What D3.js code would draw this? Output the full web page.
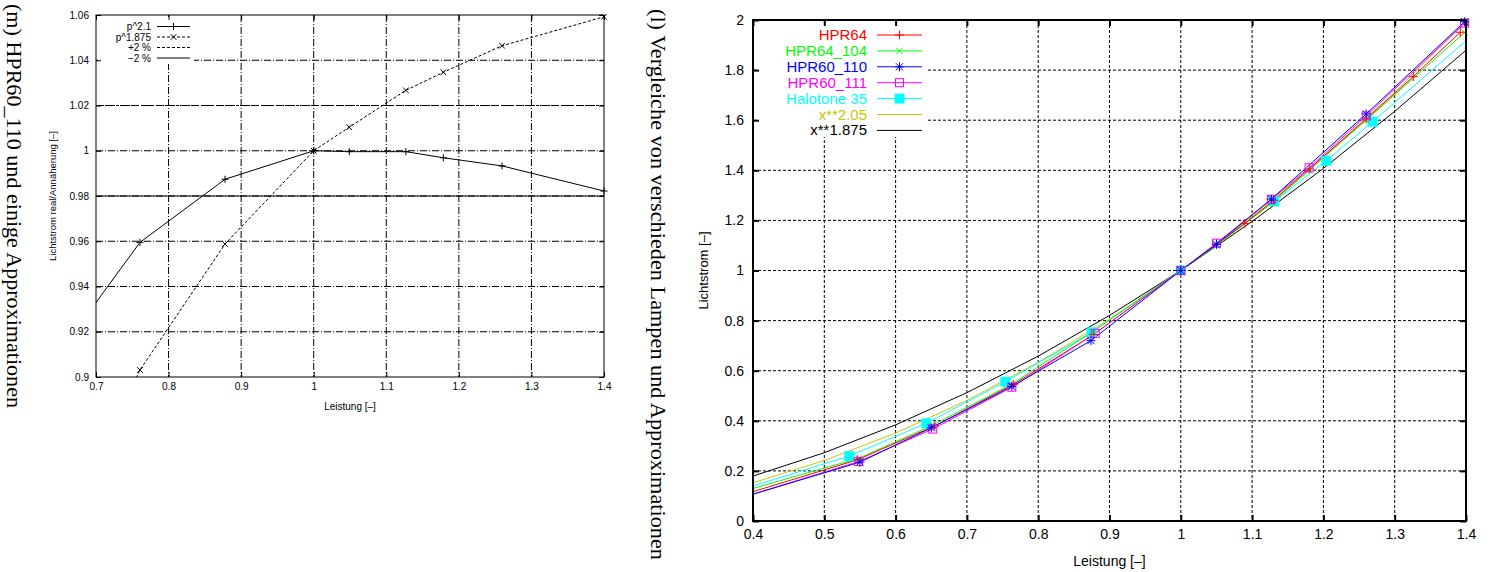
<!DOCTYPE html>
<html><head><meta charset="utf-8">
<script src="https://cdn.jsdelivr.net/npm/d3@7/dist/d3.min.js"></script>
<style>
body{margin:0;background:#fff;}
svg{display:block;}
text{font-family:"Liberation Sans",Arial,Helvetica,sans-serif;fill:#000;}
</style>
</head><body>
<svg id="c" width="1496" height="572"></svg>
<script>
// ---------------- DATA ----------------
// Left chart (m): ratio real / approximation for HPR60_110
const leftXTicks = [0.7, 0.8, 0.9, 1.0, 1.1, 1.2, 1.3, 1.4];
const leftXTickLabels = ["0.7", "0.8", "0.9", "1", "1.1", "1.2", "1.3", "1.4"];
const leftYTicks = [0.9, 0.92, 0.94, 0.96, 0.98, 1.0, 1.02, 1.04, 1.06];
const leftYTickLabels = ["0.9", "0.92", "0.94", "0.96", "0.98", "1", "1.02", "1.04", "1.06"];
const ratioPower = [0.65, 0.7606, 0.8778, 1.0, 1.049, 1.127, 1.1786, 1.2595, 1.4];
const ratioP21 = [0.911, 0.9595, 0.9874, 1.0, 0.9996, 0.9996, 0.9969, 0.9933, 0.9822];
const ratioP1875 = [0.83, 0.9031, 0.9588, 1.0, 1.0104, 1.0267, 1.0347, 1.0464, 1.0592];
const bandPlus = 1.02;
const bandMinus = 0.98;
const leftLegend = ["p^2.1", "p^1.875", "+2 %", "\u22122 %"];

// Right chart (l): comparison of lamps
const rightXTicks = [0.4, 0.5, 0.6, 0.7, 0.8, 0.9, 1.0, 1.1, 1.2, 1.3, 1.4];
const rightXTickLabels = ["0.4", "0.5", "0.6", "0.7", "0.8", "0.9", "1", "1.1", "1.2", "1.3", "1.4"];
const rightYTicks = [0, 0.2, 0.4, 0.6, 0.8, 1.0, 1.2, 1.4, 1.6, 1.8, 2.0];
const rightYTickLabels = ["0", "0.2", "0.4", "0.6", "0.8", "1", "1.2", "1.4", "1.6", "1.8", "2"];

const hpr64X = [0.4, 0.547, 0.655, 0.765, 0.878, 1.0, 1.05, 1.09, 1.13, 1.18, 1.26, 1.326, 1.392];
const hpr64Y = [0.117, 0.245, 0.38, 0.545, 0.745, 1.0, 1.105, 1.188, 1.28, 1.405, 1.605, 1.774, 1.951];
const hpr64_104X = [0.4, 0.548, 0.65, 0.762, 0.876, 1.0, 1.05, 1.128, 1.18, 1.26, 1.398];
const hpr64_104Y = [0.13, 0.25, 0.38, 0.545, 0.755, 1.0, 1.1, 1.27, 1.4, 1.6, 1.95];
const hpr60_110X = [0.4, 0.55, 0.65, 0.763, 0.874, 1.0, 1.05, 1.127, 1.26, 1.398];
const hpr60_110Y = [0.107, 0.235, 0.372, 0.537, 0.72, 1.0, 1.105, 1.285, 1.625, 1.993];
const hpr60_111X = [0.4, 0.548, 0.652, 0.763, 0.88, 1.0, 1.05, 1.127, 1.18, 1.26, 1.398];
const hpr60_111Y = [0.107, 0.237, 0.367, 0.534, 0.749, 1.0, 1.109, 1.284, 1.41, 1.617, 1.987];
const halotoneX = [0.4, 0.535, 0.643, 0.754, 0.875, 1.0, 1.131, 1.204, 1.269, 1.4];
const halotoneY = [0.14, 0.259, 0.39, 0.556, 0.753, 1.0, 1.276, 1.438, 1.594, 1.917];
const curveX = [0.4, 0.5, 0.6, 0.7, 0.8, 0.9, 1.0, 1.1, 1.2, 1.3, 1.4];
const curve205Y = [0.1528, 0.2415, 0.3509, 0.4813, 0.6329, 0.8057, 1.0, 1.2158, 1.4532, 1.7124, 1.9934];
const curve1875Y = [0.1794, 0.2726, 0.3837, 0.5123, 0.6581, 0.8207, 1.0, 1.1957, 1.4076, 1.6354, 1.8793];

const rightNames = ["HPR64", "HPR64_104", "HPR60_110", "HPR60_111", "Halotone 35", "x**2.05", "x**1.875"];
const rightColors = ["#ff0000", "#00ff00", "#0000ff", "#ff00ff", "#00ffff", "#c8c800", "#000000"];
const rightMarkers = ["plus", "cross", "star", "box", "fbox", "none", "none"];

// ---------------- DRAWING ----------------
const svg = d3.select("#c");

function caption(x, y, txt, len) {
  svg.append("text")
    .attr("transform", `translate(${x},${y}) rotate(90)`)
    .style("font-family", "'Liberation Serif','DejaVu Serif',serif")
    .attr("font-size", 22)
    .attr("textLength", len).attr("lengthAdjust", "spacingAndGlyphs")
    .text(txt);
}
caption(7, 4, "(m) HPR60_110 und einige Approximationen", 404);
caption(651, 9, "(l) Vergleiche von verschieden Lampen und Approximationen", 551);

function marker(g, type, x, y, color, s) {
  const p = d3.path();
  if (type === "plus" || type === "star") {
    p.moveTo(x - s, y); p.lineTo(x + s, y); p.moveTo(x, y - s); p.lineTo(x, y + s);
  }
  if (type === "cross" || type === "star") {
    const d = s * 0.8;
    p.moveTo(x - d, y - d); p.lineTo(x + d, y + d); p.moveTo(x - d, y + d); p.lineTo(x + d, y - d);
  }
  if (type === "box") {
    g.append("rect").attr("x", x - s).attr("y", y - s).attr("width", 2 * s).attr("height", 2 * s)
      .attr("fill", "none").attr("stroke", color).attr("stroke-width", 1);
    return;
  }
  if (type === "fbox") {
    g.append("rect").attr("x", x - s - 0.5).attr("y", y - s - 0.5).attr("width", 2 * s + 1).attr("height", 2 * s + 1)
      .attr("fill", color).attr("stroke", "none");
    return;
  }
  if (type === "none") return;
  g.append("path").attr("d", p.toString()).attr("stroke", color).attr("stroke-width", 1).attr("fill", "none");
}

// ---------- LEFT CHART ----------
(function () {
  const B = { x0: 96, x1: 604, y0: 15, y1: 377 };
  const x = d3.scaleLinear().domain([0.7, 1.4]).range([B.x0, B.x1]);
  const y = d3.scaleLinear().domain([0.9, 1.06]).range([B.y1, B.y0]);
  const g = svg.append("g");
  svg.append("clipPath").attr("id", "clipL").append("rect")
    .attr("x", B.x0).attr("y", B.y0).attr("width", B.x1 - B.x0).attr("height", B.y1 - B.y0);

  const dash = "7,2,1,2";
  // grid
  g.append("g").selectAll("line").data(leftXTicks.slice(1, -1)).join("line")
    .attr("x1", d => x(d)).attr("x2", d => x(d)).attr("y1", B.y0).attr("y2", B.y1)
    .attr("stroke", "#000").attr("stroke-width", 1).attr("stroke-dasharray", dash);
  g.append("g").selectAll("line").data(leftYTicks.slice(1, -1)).join("line")
    .attr("x1", B.x0).attr("x2", B.x1).attr("y1", d => y(d)).attr("y2", d => y(d))
    .attr("stroke", "#000").attr("stroke-width", 1).attr("stroke-dasharray", dash);

  // key background
  g.append("rect").attr("x", 98).attr("y", 17).attr("width", 96).attr("height", 47).attr("fill", "#fff");

  // axes (ticks inward, labels outside)
  const ax = g.append("g").attr("transform", `translate(0,${B.y1})`)
    .call(d3.axisBottom(x).tickValues(leftXTicks).tickFormat((d, i) => leftXTickLabels[i]).tickSize(-5).tickPadding(6));
  const ax2 = g.append("g").attr("transform", `translate(0,${B.y0})`)
    .call(d3.axisTop(x).tickValues(leftXTicks).tickFormat("").tickSize(-5));
  const ay = g.append("g").attr("transform", `translate(${B.x0},0)`)
    .call(d3.axisLeft(y).tickValues(leftYTicks).tickFormat((d, i) => leftYTickLabels[i]).tickSize(-5).tickPadding(7));
  const ay2 = g.append("g").attr("transform", `translate(${B.x1},0)`)
    .call(d3.axisRight(y).tickValues(leftYTicks).tickFormat("").tickSize(-5));
  [ax, ax2, ay, ay2].forEach(a => {
    a.select(".domain").remove();
    a.selectAll("line").attr("stroke", "#000");
    a.selectAll("text").attr("font-size", 10).attr("fill", "#000").style("font-family", "'Liberation Sans',Arial,sans-serif");
  });
  g.append("rect").attr("x", B.x0).attr("y", B.y0).attr("width", B.x1 - B.x0).attr("height", B.y1 - B.y0)
    .attr("fill", "none").attr("stroke", "#000").attr("stroke-width", 1);

  // band lines
  g.append("line").attr("x1", B.x0).attr("x2", B.x1).attr("y1", y(bandPlus)).attr("y2", y(bandPlus))
    .attr("stroke", "#000").attr("stroke-dasharray", "3,2");
  g.append("line").attr("x1", B.x0).attr("x2", B.x1).attr("y1", y(bandMinus)).attr("y2", y(bandMinus))
    .attr("stroke", "#000");

  const line = d3.line().x(d => x(d[0])).y(d => y(d[1]));
  const d21 = ratioPower.map((p, i) => [p, ratioP21[i]]);
  const d1875 = ratioPower.map((p, i) => [p, ratioP1875[i]]);
  const dg = g.append("g").attr("clip-path", "url(#clipL)");
  dg.append("path").attr("d", line(d21)).attr("fill", "none").attr("stroke", "#000").attr("stroke-width", 1);
  dg.append("path").attr("d", line(d1875)).attr("fill", "none").attr("stroke", "#000").attr("stroke-width", 1)
    .attr("stroke-dasharray", "3,2");
  const inL = d => d[0] >= 0.7 && d[0] <= 1.4 && d[1] >= 0.9 && d[1] <= 1.06;
  d21.filter(inL).forEach(d => marker(g, "plus", x(d[0]), y(d[1]), "#000", 3.5));
  d1875.filter(inL).forEach(d => marker(g, "cross", x(d[0]), y(d[1]), "#000", 3.5));

  // X / Y labels
  g.append("text").attr("x", (B.x0 + B.x1) / 2).attr("y", 410).attr("text-anchor", "middle")
    .attr("font-size", 10).text("Leistung [\u2013]");
  g.append("text").attr("transform", `translate(56,${(B.y0 + B.y1) / 2}) rotate(-90)`).attr("text-anchor", "middle")
    .attr("font-size", 9.5).text("Lichtstrom real/Ann\u00e4herung [\u2013]");

  // legend
  const rows = [26.5, 37, 47.5, 58];
  const styles = [{ dash: null, m: "plus" }, { dash: "3,2", m: "cross" }, { dash: "3,2", m: "none" }, { dash: null, m: "none" }];
  leftLegend.forEach((t, i) => {
    g.append("text").attr("x", 151).attr("y", rows[i] + 3.5).attr("text-anchor", "end").attr("font-size", 10).text(t);
    g.append("line").attr("x1", 157).attr("x2", 190).attr("y1", rows[i]).attr("y2", rows[i])
      .attr("stroke", "#000").attr("stroke-dasharray", styles[i].dash);
    marker(g, styles[i].m, 173.5, rows[i], "#000", 3.5);
  });
})();

// ---------- RIGHT CHART ----------
(function () {
  const B = { x0: 753, x1: 1466, y0: 20, y1: 521 };
  const x = d3.scaleLinear().domain([0.4, 1.4]).range([B.x0, B.x1]);
  const y = d3.scaleLinear().domain([0, 2]).range([B.y1, B.y0]);
  const g = svg.append("g");
  svg.append("clipPath").attr("id", "clipR").append("rect")
    .attr("x", B.x0).attr("y", B.y0).attr("width", B.x1 - B.x0).attr("height", B.y1 - B.y0);

  const dash = "3,2";
  g.append("g").selectAll("line").data(rightXTicks.slice(1, -1)).join("line")
    .attr("x1", d => x(d)).attr("x2", d => x(d)).attr("y1", B.y0).attr("y2", B.y1)
    .attr("stroke", "#000").attr("stroke-width", 1).attr("stroke-dasharray", dash);
  g.append("g").selectAll("line").data(rightYTicks.slice(1, -1)).join("line")
    .attr("x1", B.x0).attr("x2", B.x1).attr("y1", d => y(d)).attr("y2", d => y(d))
    .attr("stroke", "#000").attr("stroke-width", 1).attr("stroke-dasharray", dash);

  // key background
  g.append("rect").attr("x", 757).attr("y", 22).attr("width", 171).attr("height", 115).attr("fill", "#fff");

  const ax = g.append("g").attr("transform", `translate(0,${B.y1})`)
    .call(d3.axisBottom(x).tickValues(rightXTicks).tickFormat((d, i) => rightXTickLabels[i]).tickSize(-6).tickPadding(8));
  const ax2 = g.append("g").attr("transform", `translate(0,${B.y0})`)
    .call(d3.axisTop(x).tickValues(rightXTicks).tickFormat("").tickSize(-6));
  const ay = g.append("g").attr("transform", `translate(${B.x0},0)`)
    .call(d3.axisLeft(y).tickValues(rightYTicks).tickFormat((d, i) => rightYTickLabels[i]).tickSize(-6).tickPadding(9));
  const ay2 = g.append("g").attr("transform", `translate(${B.x1},0)`)
    .call(d3.axisRight(y).tickValues(rightYTicks).tickFormat("").tickSize(-6));
  [ax, ax2, ay, ay2].forEach(a => {
    a.select(".domain").remove();
    a.selectAll("line").attr("stroke", "#000").attr("stroke-width", 2);
    a.selectAll("text").attr("font-size", 14).attr("fill", "#000").style("font-family", "'Liberation Sans',Arial,sans-serif");
  });

  const series = [
    [hpr64X, hpr64Y], [hpr64_104X, hpr64_104Y], [hpr60_110X, hpr60_110Y], [hpr60_111X, hpr60_111Y],
    [halotoneX, halotoneY], [curveX, curve205Y], [curveX, curve1875Y]
  ];
  const line = d3.line().x(d => x(d[0])).y(d => y(d[1]));
  const dg = g.append("g").attr("clip-path", "url(#clipR)");
  const order = [6, 5, 4, 1, 0, 3, 2];
  order.forEach(k => {
    const [xs, ys] = series[k];
    const pts = xs.map((v, i) => [v, ys[i]]);
    dg.append("path").attr("d", line(pts)).attr("fill", "none").attr("stroke", rightColors[k]).attr("stroke-width", 1);
  });
  const msize = { plus: 4.5, cross: 4, star: 4.5, box: 4, fbox: 4.5 };
  order.forEach(k => {
    const [xs, ys] = series[k];
    const m = rightMarkers[k];
    if (m === "none") return;
    xs.forEach((v, i) => {
      if (v > 0.4 && v < 1.4) marker(g, m, x(v), y(ys[i]), rightColors[k], msize[m]);
    });
  });

  g.append("rect").attr("x", B.x0).attr("y", B.y0).attr("width", B.x1 - B.x0).attr("height", B.y1 - B.y0)
    .attr("fill", "none").attr("stroke", "#000").attr("stroke-width", 2);

  g.append("text").attr("x", (B.x0 + B.x1) / 2).attr("y", 566).attr("text-anchor", "middle")
    .attr("font-size", 14).text("Leistung [\u2013]");
  g.append("text").attr("transform", `translate(708,${(B.y0 + B.y1) / 2}) rotate(-90)`).attr("text-anchor", "middle")
    .attr("font-size", 13).text("Lichtstrom [\u2013]");

  // legend
  rightNames.forEach((t, i) => {
    const ry = 35 + i * 15.9;
    g.append("text").attr("x", 867).attr("y", ry + 5).attr("text-anchor", "end").attr("font-size", 15)
      .attr("fill", rightColors[i]).style("fill", rightColors[i]).text(t);
    g.append("line").attr("x1", 877).attr("x2", 922).attr("y1", ry).attr("y2", ry)
      .attr("stroke", rightColors[i]).attr("stroke-width", 1);
    marker(g, rightMarkers[i], 899.5, ry, rightColors[i], msize[rightMarkers[i]] || 0);
  });
})();
</script>
</body></html>
